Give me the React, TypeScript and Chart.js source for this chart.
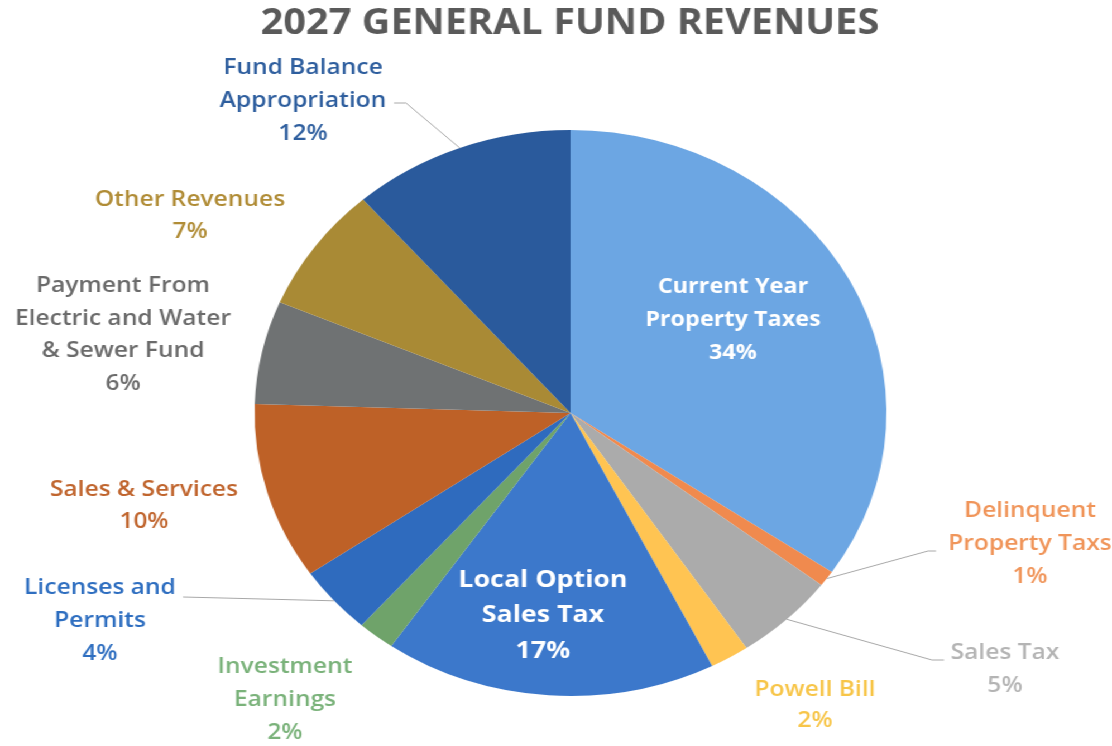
import React, { useEffect, useRef } from "react";
import { Chart, registerables } from "chart.js";

Chart.register(...registerables);

const TITLE = "2027 GENERAL FUND REVENUES";

const categories = [
  "Current Year Property Taxes",
  "Delinquent Property Taxs",
  "Sales Tax",
  "Powell Bill",
  "Local Option Sales Tax",
  "Investment Earnings",
  "Licenses and Permits",
  "Sales & Services",
  "Payment From Electric and Water & Sewer Fund",
  "Other Revenues",
  "Fund Balance Appropriation",
];

const shares = [34.5, 0.9, 5.2, 2.0, 17.0, 1.9, 3.9, 10.1, 5.9, 7.2, 11.4];

const percentLabels = ["34%", "1%", "5%", "2%", "17%", "2%", "4%", "10%", "6%", "7%", "12%"];

const labelLines = [
  ["Current Year", "Property Taxes"],
  ["Delinquent", "Property Taxs"],
  ["Sales Tax"],
  ["Powell Bill"],
  ["Local Option", "Sales Tax"],
  ["Investment", "Earnings"],
  ["Licenses and", "Permits"],
  ["Sales & Services"],
  ["Payment From", "Electric and Water", "& Sewer Fund"],
  ["Other Revenues"],
  ["Fund Balance", "Appropriation"],
];

const sliceColors = [
  "#6CA6E3",
  "#F08A4E",
  "#ABABAB",
  "#FFC452",
  "#3C78CB",
  "#6FA36A",
  "#2F6BBE",
  "#BE6127",
  "#6F7273",
  "#A98A35",
  "#2A5A9C",
];

// ---- layout (screen coordinates of the 1112x746 picture) ----
const W = 996;
const H = 746;
const SX = 1112 / W;

type LabelLayout = {
  x: number;
  y: number;
  lh: number;
  size: number;
  weight: string;
  color: string;
  leader?: number[][];
};

const labelLayout: LabelLayout[] = [
  { x: 733, y: 287, lh: 33, size: 21, weight: "bold", color: "#FFFFFF" },
  { x: 1030, y: 511, lh: 33, size: 22, weight: "600", color: "#F0955A", leader: [[928, 551], [936, 551]] },
  { x: 1005, y: 653, lh: 33, size: 22, weight: "600", color: "#B4B4B4", leader: [[932, 660], [944, 660]] },
  { x: 815, y: 690, lh: 31, size: 22, weight: "600", color: "#F7C548" },
  { x: 543, y: 580, lh: 35.5, size: 24, weight: "bold", color: "#FFFFFF" },
  { x: 285, y: 667, lh: 33, size: 22, weight: "600", color: "#7AB27A" },
  { x: 100, y: 588, lh: 33, size: 22, weight: "600", color: "#2E6EC0", leader: [[183, 597]] },
  { x: 144, y: 490, lh: 32, size: 22, weight: "600", color: "#C0652E" },
  { x: 123, y: 286, lh: 32.5, size: 22, weight: "600", color: "#6B6B6B" },
  { x: 190, y: 200, lh: 32, size: 22, weight: "600", color: "#B08C36" },
  { x: 303, y: 68, lh: 33, size: 22, weight: "600", color: "#2E5E9E", leader: [[406, 103], [394, 103]] },
];

const FONT = '"Open Sans", "Liberation Sans", sans-serif';

const labelPlugin = {
  id: "pieLabels",
  afterDraw(chart: any) {
    const ctx = chart.ctx as CanvasRenderingContext2D;
    ctx.save();
    // title
    ctx.fillStyle = "#5A5A5A";
    ctx.font = `bold 35.5px ${FONT}`;
    ctx.textAlign = "center";
    ctx.textBaseline = "middle";
    ctx.fillText(TITLE, 570 / SX, 24);

    const meta = chart.getDatasetMeta(0);
    meta.data.forEach((arc: any, i: number) => {
      const lay = labelLayout[i];
      // leader line
      if (lay.leader) {
        const mid = (arc.startAngle + arc.endAngle) / 2;
        const sx = arc.x + arc.outerRadius * Math.cos(mid);
        const sy = arc.y + arc.outerRadius * Math.sin(mid);
        ctx.beginPath();
        ctx.strokeStyle = "#A8A8A8";
        ctx.lineWidth = 1;
        ctx.moveTo(sx, sy);
        lay.leader.forEach((p) => ctx.lineTo(p[0] / SX, p[1]));
        ctx.stroke();
      }
      const lines = [...labelLines[i], percentLabels[i]];
      ctx.fillStyle = lay.color;
      ctx.font = `${lay.weight} ${lay.size}px ${FONT}`;
      ctx.textAlign = "center";
      ctx.textBaseline = "middle";
      lines.forEach((t, k) => ctx.fillText(t, lay.x / SX, lay.y + k * lay.lh));
    });
    ctx.restore();
  },
};

export default function App() {
  const ref = useRef<HTMLCanvasElement>(null);
  useEffect(() => {
    if (!ref.current) return;
    const chart = new Chart(ref.current, {
      type: "pie",
      data: {
        labels: categories,
        datasets: [
          {
            data: shares,
            backgroundColor: sliceColors,
            borderWidth: 0,
          },
        ],
      },
      options: {
        responsive: false,
        animation: false,
        radius: 283,
        layout: { padding: { left: 26, top: 80, right: 0, bottom: 0 } },
        plugins: {
          legend: { display: false },
          title: { display: false },
          tooltip: { enabled: false },
        },
      } as any,
      plugins: [labelPlugin],
    });
    return () => chart.destroy();
  }, []);
  return (
    <div
      style={{
        position: "fixed",
        left: 0,
        top: 0,
        width: W,
        height: H,
        background: "#fff",
        transform: `scaleX(${SX})`,
        transformOrigin: "0 0",
      }}
    >
      <canvas ref={ref} width={W} height={H} style={{ width: W, height: H, display: "block" }} />
    </div>
  );
}
